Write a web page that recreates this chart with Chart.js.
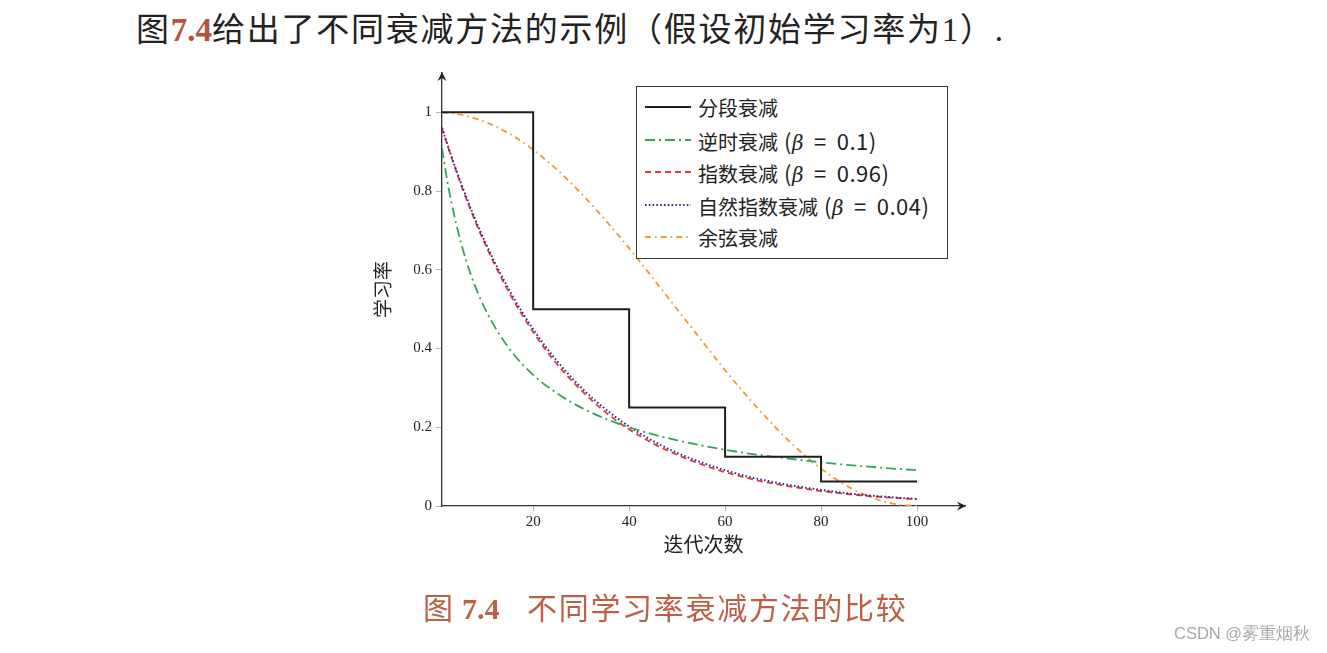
<!DOCTYPE html>
<html>
<head>
<meta charset="utf-8">
<title>学习率衰减方法的比较</title>
<script src="https://cdn.jsdelivr.net/npm/chart.js@4.4.1/dist/chart.umd.min.js"></script>
<style>
  html, body { margin: 0; padding: 0; background: #fff; }
  body { width: 1327px; height: 653px; position: relative; overflow: hidden; font-family: "Noto Sans CJK SC", sans-serif; color: #222; }
  #wrap { position: absolute; left: 0; top: 0; width: 1327px; height: 653px; }
  .intro { position: absolute; left: 136px; top: 3px; font-size: 33px; white-space: nowrap; letter-spacing: 1.75px; }
  .intro .num { font-family: "Liberation Serif", serif; color: #b5533c; font-weight: bold; letter-spacing: 0; }
  .intro .ser { font-family: "Liberation Serif", serif; }
  .caption { position: absolute; top: 584px; font-size: 30px; color: #bd5e47; white-space: nowrap; }
  .caption .num { font-family: "Liberation Serif", serif; font-weight: bold; }
  .mark { position: absolute; left: 1174px; top: 623px; font-size: 16.5px; color: #a8a8a8; font-family: "Liberation Sans", sans-serif; white-space: nowrap; }
  #legend { position: absolute; left: 636px; top: 86px; width: 312px; height: 173px; border: 1px solid #333; background: #fff; padding-top: 4px; box-sizing: border-box; z-index: 2; }
  #legend .row { height: 32.5px; display: flex; align-items: center; font-size: 20px; white-space: nowrap; }
  #legend svg { margin-left: 8px; margin-right: 7px; }
  #legend .math { font-size: 22px; margin-left: 6px; letter-spacing: 0.5px; }
  #legend .eq { margin: 0 10px; }
  #legend i { font-family: "DejaVu Serif", serif; font-size: 20px; }
</style>
</head>
<body>
<div class="intro">图<span class="num">7.4</span>给出了不同衰减方法的示例（假设初始学习率为<span class="ser">1</span>）<span class="ser">.</span></div>
<div id="wrap"><canvas id="chart"></canvas></div>
<div id="legend"></div>
<div class="caption" style="left:423px">图</div>
<div class="caption" style="left:462px"><span class="num">7.4</span></div>
<div class="caption" style="left:527px;letter-spacing:1.7px">不同学习率衰减方法的比较</div>
<div class="mark">CSDN @雾重烟秋</div>

<script>
const iters = [1, 2, 3, 5, 7, 10, 15, 20, 25, 30, 35, 40, 45, 50, 55, 60, 65, 70, 75, 80, 85, 90, 95, 100];
const inverseTime = [0.909, 0.833, 0.769, 0.667, 0.588, 0.5, 0.4, 0.333, 0.286, 0.25, 0.222, 0.2, 0.182, 0.167, 0.154, 0.143, 0.133, 0.125, 0.118, 0.111, 0.105, 0.1, 0.095, 0.091];
const exponential = [0.96, 0.922, 0.885, 0.815, 0.751, 0.665, 0.542, 0.442, 0.36, 0.294, 0.239, 0.195, 0.159, 0.13, 0.106, 0.086, 0.07, 0.057, 0.047, 0.038, 0.031, 0.025, 0.021, 0.017];
const naturalExp = [0.961, 0.923, 0.887, 0.819, 0.756, 0.67, 0.549, 0.449, 0.368, 0.301, 0.247, 0.202, 0.165, 0.135, 0.111, 0.091, 0.074, 0.061, 0.05, 0.041, 0.033, 0.027, 0.022, 0.018];
const cosine = [1, 0.999, 0.998, 0.994, 0.988, 0.976, 0.946, 0.905, 0.854, 0.794, 0.727, 0.655, 0.578, 0.5, 0.422, 0.345, 0.273, 0.206, 0.146, 0.095, 0.054, 0.024, 0.006, 0];

// piecewise constant decay
const stepIters = [1, 20, 20, 40, 40, 60, 60, 80, 80, 100];
const stepRate = [1, 1, 0.5, 0.5, 0.25, 0.25, 0.125, 0.125, 0.0625, 0.0625];

const xTicks = [20, 40, 60, 80, 100];
const yTicks = [0, 0.2, 0.4, 0.6, 0.8, 1];

const seriesLabels = ["分段衰减", "逆时衰减 (β = 0.1)", "指数衰减 (β = 0.96)", "自然指数衰减 (β = 0.04)", "余弦衰减"];

function pts(xs, ys) {
  return xs.map((x, i) => ({ x: x, y: ys[i] }));
}

const styles = [
  { color: "#1e1e1e", dash: [], width: 2 },
  { color: "#37a35a", dash: [10, 4, 2, 4], width: 1.8 },
  { color: "#e53935", dash: [6, 4], width: 1.8 },
  { color: "#2b2b9a", dash: [1.6, 2.2], width: 1.9 },
  { color: "#f09a2e", dash: [6, 4, 1.6, 4], width: 1.8 }
];

const seriesData = [
  pts(stepIters, stepRate),
  pts(iters, inverseTime),
  pts(iters, exponential),
  pts(iters, naturalExp),
  pts(iters, cosine)
];
const drawOrder = [0, 1, 3, 2, 4];

const datasets = seriesLabels.map((label, i) => ({
  label: label,
  data: seriesData[i],
  borderColor: styles[i].color,
  borderWidth: styles[i].width,
  borderDash: styles[i].dash,
  pointRadius: 0,
  fill: false,
  tension: 0,
  cubicInterpolationMode: i === 0 ? "default" : "monotone",
  order: drawOrder[i]
}));

// legend in html, line samples from the same styles
const legend = document.getElementById("legend");
seriesLabels.forEach((label, i) => {
  const row = document.createElement("div");
  row.className = "row";
  const s = styles[i];
  let text = label;
  const k = label.indexOf(" (");
  if (k >= 0) {
    const inner = label.slice(k + 2, -1).split(" = ");
    text = label.slice(0, k) + '<span class="math">(<i>' + inner[0] + '</i><span class="eq">=</span>' + inner[1] + ')</span>';
  }
  row.innerHTML =
    '<svg width="46" height="10"><line x1="0" y1="5" x2="46" y2="5" stroke="' + s.color +
    '" stroke-width="' + s.width + '" stroke-dasharray="' + (s.dash.length ? s.dash.join(",") : "none") + '"/></svg>' +
    '<span>' + text + '</span>';
  legend.appendChild(row);
});

const arrows = {
  id: "arrows",
  afterDraw(chart) {
    const { ctx, chartArea } = chart;
    const x0 = chartArea.left, y0 = chartArea.bottom;
    ctx.save();
    ctx.fillStyle = "#222";
    // x axis arrow
    ctx.beginPath();
    ctx.moveTo(chartArea.right + 1, y0);
    ctx.lineTo(chartArea.right - 8, y0 - 4.5);
    ctx.lineTo(chartArea.right - 5, y0);
    ctx.lineTo(chartArea.right - 8, y0 + 4.5);
    ctx.closePath();
    ctx.fill();
    // y axis arrow
    ctx.beginPath();
    ctx.moveTo(x0, chartArea.top - 1);
    ctx.lineTo(x0 - 4.5, chartArea.top + 8);
    ctx.lineTo(x0, chartArea.top + 5);
    ctx.lineTo(x0 + 4.5, chartArea.top + 8);
    ctx.closePath();
    ctx.fill();
    ctx.restore();
  }
};

const tickFont = { family: "Liberation Serif", size: 15 };

new Chart(document.getElementById("chart"), {
  type: "line",
  data: { datasets: datasets },
  plugins: [arrows],
  options: {
    responsive: true,
    maintainAspectRatio: false,
    animation: false,
    layout: { padding: { left: 370, top: 73, right: 362, bottom: 95 } },
    plugins: {
      legend: { display: false },
      tooltip: { enabled: false }
    },
    scales: {
      x: {
        type: "linear",
        min: 1,
        max: 110,
        afterBuildTicks: (s) => { s.ticks = xTicks.map(v => ({ value: v })); },
        afterFit: (s) => { s.height = 52; },
        grid: { drawOnChartArea: false, tickLength: 5, color: "#b5b5b5" },
        border: { color: "#333", width: 1.3 },
        ticks: { font: tickFont, color: "#222", padding: 2, maxRotation: 0, callback: v => String(v) },
        title: { display: true, text: "迭代次数", font: { family: "Noto Sans CJK SC", size: 20 }, color: "#222", padding: { top: 0, bottom: 2 } }
      },
      y: {
        type: "linear",
        min: 0,
        max: 1.1,
        afterBuildTicks: (s) => { s.ticks = yTicks.map(v => ({ value: v })); },
        afterFit: (s) => { s.width = 72; },
        grid: { drawOnChartArea: false, tickLength: 6, color: "#b5b5b5" },
        border: { color: "#333", width: 1.3 },
        ticks: { font: tickFont, color: "#222", padding: 4, callback: v => String(v) },
        title: { display: true, text: "学习率", font: { family: "Noto Sans CJK SC", size: 19 }, color: "#222", padding: { top: 1, bottom: 0 } }
      }
    }
  }
});
</script>
</body>
</html>
